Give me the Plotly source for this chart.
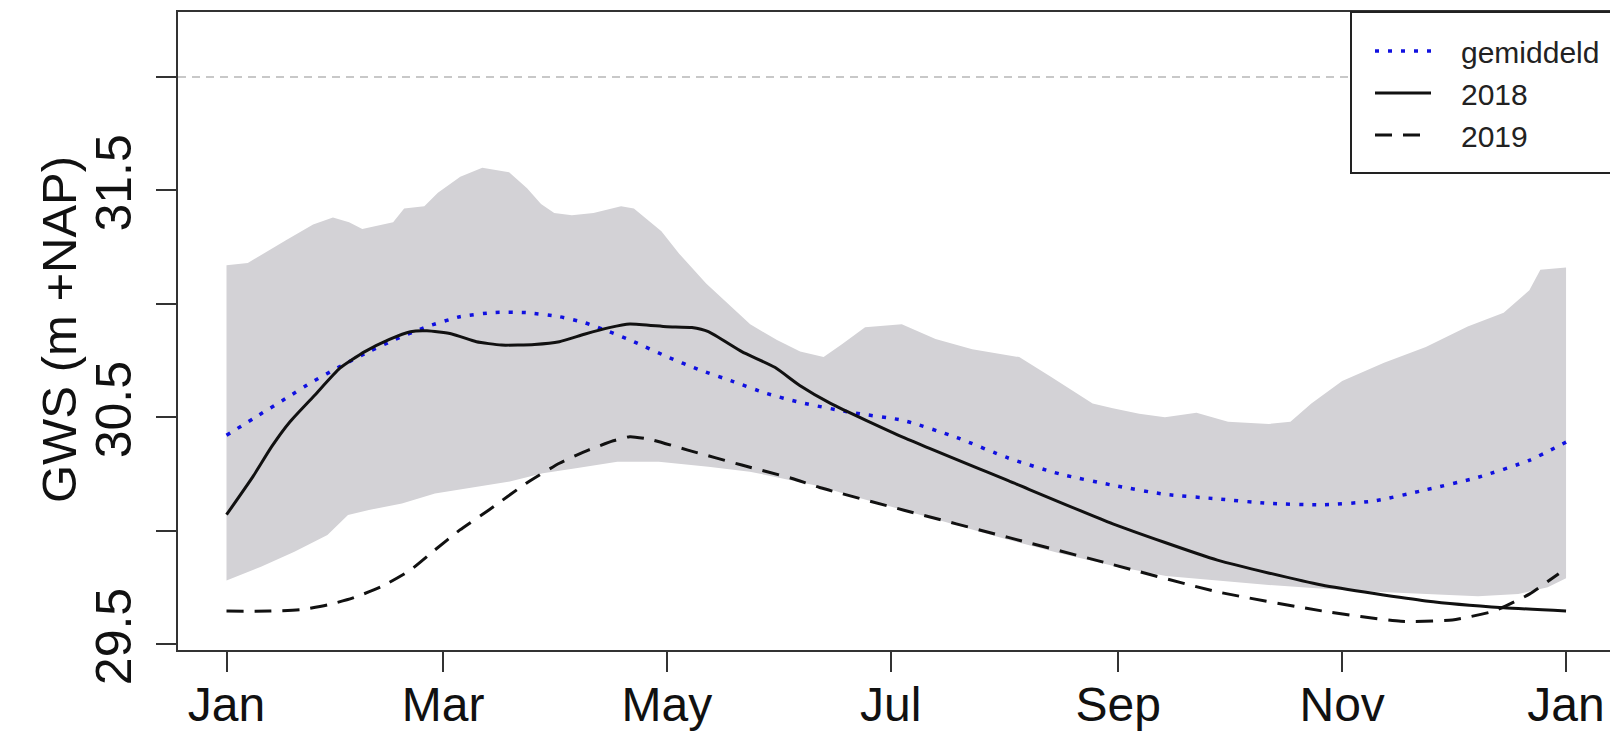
import plotly.graph_objects as go

# ---- data (day of year, GWS m +NAP) ----
month_ticks = [0, 59, 120, 181, 243, 304, 365]
month_labels = ["Jan", "Mar", "May", "Jul", "Sep", "Nov", "Jan"]

y_ticks = [29.5, 30.0, 30.5, 31.0, 31.5, 32.0]
y_labels = ["29.5", "", "30.5", "", "31.5", ""]

band_up_days = [0, 5.8, 16.2, 23.6, 29, 33.4, 37, 45.4, 48.4, 53.9, 57.6, 63.7, 69.7, 77,
                81.9, 85.7, 89.3, 94.1, 100, 107.5, 111, 118.5, 123.4, 130.7, 142.7, 150,
                156.3, 162.7, 167.6, 174, 184, 193.2, 203.2, 216, 224.5, 236, 241.5, 248.7,
                255.7, 264.3, 272.9, 284, 289.9, 295.6, 304, 315.4, 326.8, 338.2, 348, 355,
                358, 365]
band_up_vals = [31.17, 31.18, 31.28, 31.35, 31.38, 31.36, 31.33, 31.36, 31.42, 31.43, 31.49,
                31.56, 31.60, 31.58, 31.51, 31.44, 31.40, 31.39, 31.40, 31.43, 31.42, 31.32,
                31.22, 31.09, 30.91, 30.84, 30.79, 30.765, 30.82, 30.897, 30.91, 30.845,
                30.80, 30.765, 30.68, 30.56, 30.54, 30.515, 30.50, 30.52, 30.48, 30.47,
                30.48, 30.56, 30.66, 30.74, 30.81, 30.90, 30.96, 31.06, 31.15, 31.16]

band_lo_days = [0, 9.4, 18.5, 27.5, 33.1, 38.8, 47.8, 56.8, 65.9, 77.2, 86.2, 95.2, 106.5,
                117.8, 131.3, 142.6, 161.6, 170, 184.6, 199, 213, 227, 241.5, 256, 270, 284,
                298, 313, 327, 341, 352, 360, 365]
band_lo_vals = [29.78, 29.841, 29.907, 29.981, 30.069, 30.091, 30.12, 30.164, 30.186, 30.216,
                30.253, 30.275, 30.304, 30.304, 30.282, 30.26, 30.195, 30.155, 30.09, 30.025,
                29.96, 29.90, 29.845, 29.80, 29.78, 29.76, 29.745, 29.73, 29.72, 29.71,
                29.72, 29.75, 29.79]

mean_days = [0, 8.9, 16.2, 23.5, 30.9, 38.8, 45.6, 54.6, 63.6, 73.2, 81.7, 90.7, 97.5, 104.3,
             111, 120, 129, 138.1, 147.1, 156.3, 170.5, 184.6, 199, 213, 227, 241.5, 255.7,
             270, 284, 298.4, 312.5, 326.8, 341, 355, 365]
mean_vals = [30.42, 30.51, 30.583, 30.657, 30.723, 30.789, 30.84, 30.899, 30.943, 30.962,
             30.961, 30.943, 30.917, 30.877, 30.833, 30.767, 30.708, 30.657, 30.605, 30.565,
             30.52, 30.485, 30.41, 30.32, 30.25, 30.20, 30.16, 30.14, 30.12, 30.114, 30.13,
             30.18, 30.235, 30.31, 30.39]

y2018_days = [0, 7.2, 12.3, 17.3, 24.1, 30.9, 37.7, 44.4, 50.1, 54.6, 61.4, 68.1, 74.9, 83.9,
              90.7, 97.5, 104.3, 109.9, 120, 126.8, 131.3, 140.4, 149.4, 156.2, 164.7, 184.6,
              213, 241.5, 270, 298.4, 326.8, 348, 365]
y2018_vals = [30.07, 30.238, 30.37, 30.48, 30.598, 30.716, 30.789, 30.843, 30.877, 30.881,
              30.867, 30.833, 30.818, 30.821, 30.833, 30.866, 30.895, 30.911, 30.899, 30.895,
              30.877, 30.789, 30.72, 30.64, 30.56, 30.41, 30.22, 30.03, 29.87, 29.76, 29.69,
              29.66, 29.646]

y2019_days = [0, 11.7, 20.7, 27.5, 34.3, 42.2, 50.1, 56.8, 63.6, 71.5, 81.7, 90.7, 98.6,
              105.4, 109.9, 115.5, 125.7, 140.4, 153.9, 161.6, 184.6, 213, 241.5, 270, 298.4,
              320, 334, 345.5, 355, 363]
y2019_vals = [29.645, 29.645, 29.652, 29.672, 29.702, 29.753, 29.826, 29.915, 30.003, 30.091,
              30.209, 30.297, 30.355, 30.396, 30.414, 30.402, 30.355, 30.289, 30.231, 30.19,
              30.09, 29.97, 29.85, 29.73, 29.646, 29.60, 29.606, 29.646, 29.72, 29.81]

ref_level = 32.0

FONT = "Liberation Sans, Arial, sans-serif"
NB = "\u00a0"

fig = go.Figure()

fig.add_trace(go.Scatter(
    x=band_up_days + band_lo_days[::-1],
    y=band_up_vals + band_lo_vals[::-1],
    fill="toself", fillcolor="#d3d2d6", mode="lines", line=dict(width=0),
    showlegend=False, hoverinfo="skip"))

fig.add_trace(go.Scatter(
    x=mean_days, y=mean_vals, mode="lines", name=NB * 3 + "gemiddeld",
    line=dict(color="#1010e0", width=3.5, dash="4px,9px", shape="spline", smoothing=0.6)))

fig.add_trace(go.Scatter(
    x=y2018_days, y=y2018_vals, mode="lines", name=NB * 3 + "2018",
    line=dict(color="#111111", width=3, shape="spline", smoothing=0.5)))

fig.add_trace(go.Scatter(
    x=y2019_days, y=y2019_vals, mode="lines", name=NB * 3 + "2019",
    line=dict(color="#111111", width=3, dash="17px,11px", shape="spline", smoothing=0.5)))

fig.add_hline(y=ref_level, line=dict(color="#c8c8c8", width=2, dash="8px,6px"), layer="below")

# page body has an 8px margin: the figure is laid out in page coordinates minus 8
OFF = 8
FIG_W, FIG_H = 1618 - OFF, 734 - OFF
L_PX, R_PX, T_PX, B_PX = 178, 1618, 12, 650   # plot area in page pixels
W, H = R_PX - L_PX, B_PX - T_PX

fig.add_shape(type="rect", xref="paper", yref="paper",
              x0=(1351 - L_PX) / W, x1=1.2, y0=(B_PX - 173) / H, y1=1.0,
              fillcolor="white", line=dict(color="#222222", width=2), layer="above")

fig.add_annotation(text="GWS (m +NAP)", xref="paper", yref="paper",
                   x=(59 - L_PX) / W, y=(B_PX - 330) / H, textangle=-90,
                   showarrow=False, xanchor="center", yanchor="middle",
                   font=dict(family=FONT, size=49, color="#111111"))

x_per_day = 3.67
x0 = -(226.5 - L_PX) / x_per_day
x1 = x0 + W / x_per_day
y_px_per_unit = 226.8
ytop = 32 + (77 - T_PX) / y_px_per_unit
ybot = ytop - H / y_px_per_unit

fig.update_layout(
    width=FIG_W, height=FIG_H,
    margin=dict(l=L_PX - OFF, r=0, t=T_PX - OFF, b=FIG_H - (B_PX - OFF)),
    paper_bgcolor="white", plot_bgcolor="white",
    font=dict(family=FONT, color="#111111"),
    showlegend=True,
    legend=dict(x=(1370 - L_PX) / W, y=1.0 - 13 / H, xanchor="left", yanchor="top",
                bgcolor="rgba(0,0,0,0)", borderwidth=0,
                font=dict(family=FONT, size=30, color="#222222"),
                itemwidth=56, tracegroupgap=0),
    xaxis=dict(range=[x0, x1], tickmode="array", tickvals=month_ticks, ticktext=month_labels,
               showgrid=False, zeroline=False, showline=True, linecolor="#333333", linewidth=2,
               mirror=True, ticks="outside", ticklen=20, tickwidth=2, tickcolor="#333333",
               ticklabelstandoff=-9,
               tickfont=dict(family=FONT, size=48, color="#111111"), automargin=False),
    yaxis=dict(range=[ybot, ytop], tickmode="array", tickvals=y_ticks, ticktext=y_labels,
               showgrid=False, zeroline=False, showline=True, linecolor="#333333", linewidth=2,
               mirror=False, ticks="outside", ticklen=20, tickwidth=2, tickcolor="#333333",
               tickangle=-90, ticklabelstandoff=5,
               tickfont=dict(family=FONT, size=50, color="#111111"),
               automargin=False),
)

fig.write_html("out.html")
